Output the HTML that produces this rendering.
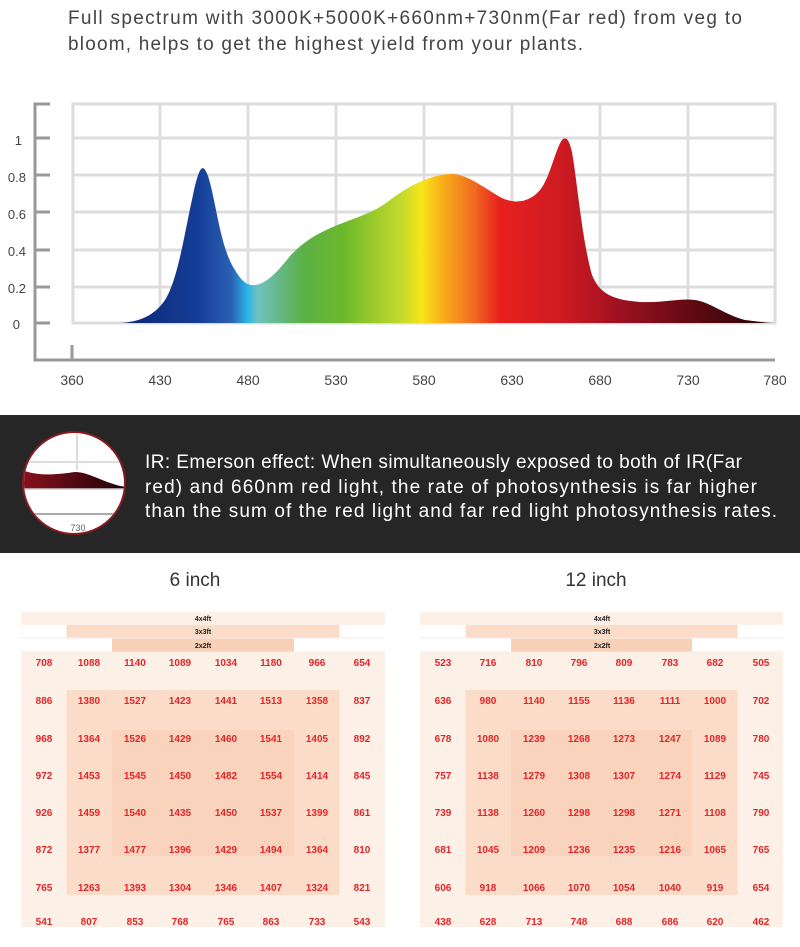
<!DOCTYPE html>
<html><head><meta charset="utf-8"><style>
body{margin:0;width:800px;height:947px;background:#fff;overflow:hidden}
svg{display:block;font-family:"Liberation Sans",sans-serif}
</style></head><body>
<svg width="800" height="947" viewBox="0 0 800 947">
<defs>
<linearGradient id="spec" x1="120" y1="0" x2="775" y2="0" gradientUnits="userSpaceOnUse">
<stop offset="0" stop-color="#0a2670"/>
<stop offset="0.12" stop-color="#153e98"/>
<stop offset="0.17" stop-color="#2a60b2"/>
<stop offset="0.195" stop-color="#2bb6e8"/>
<stop offset="0.21" stop-color="#70c0c0"/>
<stop offset="0.28" stop-color="#5cb045"/>
<stop offset="0.34" stop-color="#6cb82c"/>
<stop offset="0.43" stop-color="#c4da2c"/>
<stop offset="0.46" stop-color="#f5e619"/>
<stop offset="0.49" stop-color="#f8b218"/>
<stop offset="0.54" stop-color="#f06c20"/>
<stop offset="0.58" stop-color="#e8201e"/>
<stop offset="0.68" stop-color="#cc1a22"/>
<stop offset="0.77" stop-color="#9a1020"/>
<stop offset="0.87" stop-color="#620a12"/>
<stop offset="1" stop-color="#200404"/>
</linearGradient>
<linearGradient id="ir" x1="22" y1="0" x2="126" y2="0" gradientUnits="userSpaceOnUse">
<stop offset="0" stop-color="#8a1020"/><stop offset="1" stop-color="#1a0204"/>
</linearGradient>
<clipPath id="cc"><circle cx="74" cy="483" r="50"/></clipPath>
</defs>
<text x="68" y="24" font-size="19" fill="#444" textLength="674" lengthAdjust="spacing">Full spectrum with 3000K+5000K+660nm+730nm(Far red) from veg to</text>
<text x="68" y="50" font-size="19" fill="#444" textLength="515" lengthAdjust="spacing">bloom, helps to get the highest yield from your plants.</text>
<g stroke="#dddddd" stroke-width="3" fill="none">
<rect x="73" y="104" width="702" height="219"/>
<line x1="160" y1="104" x2="160" y2="323"/><line x1="248" y1="104" x2="248" y2="323"/>
<line x1="336" y1="104" x2="336" y2="323"/><line x1="424" y1="104" x2="424" y2="323"/>
<line x1="512" y1="104" x2="512" y2="323"/><line x1="600" y1="104" x2="600" y2="323"/>
<line x1="688" y1="104" x2="688" y2="323"/>
<line x1="73" y1="138" x2="775" y2="138"/><line x1="73" y1="175" x2="775" y2="175"/>
<line x1="73" y1="212" x2="775" y2="212"/><line x1="73" y1="250" x2="775" y2="250"/>
<line x1="73" y1="287" x2="775" y2="287"/>
</g>
<g stroke="#999" stroke-width="3" fill="none">
<polyline points="50,104 35,104 35,360 775,360"/>
<line x1="35" y1="138" x2="50" y2="138"/><line x1="35" y1="175" x2="50" y2="175"/>
<line x1="35" y1="212" x2="50" y2="212"/><line x1="35" y1="250" x2="50" y2="250"/>
<line x1="35" y1="287" x2="50" y2="287"/><line x1="35" y1="323" x2="50" y2="323"/>
<line x1="72" y1="345" x2="72" y2="360"/>
</g>
<g font-size="13" fill="#444" text-anchor="end">
<text x="22" y="145">1</text><text x="26" y="182">0.8</text><text x="26" y="219">0.6</text>
<text x="26" y="256">0.4</text><text x="26" y="293">0.2</text><text x="20" y="329">0</text>
</g>
<g font-size="14" fill="#444" text-anchor="middle">
<text x="72" y="385">360</text><text x="160" y="385">430</text><text x="248" y="385">480</text>
<text x="336" y="385">530</text><text x="424" y="385">580</text><text x="512" y="385">630</text>
<text x="600" y="385">680</text><text x="688" y="385">730</text><text x="775" y="385">780</text>
</g>
<path fill="url(#spec)" d="M120,323 C140,322 155,315 165,300 C178,280 185,230 193,195 C197,176 200,168 203,168 C207,170 210,180 215,205 C220,230 225,255 235,270 C242,282 248,286 255,285 C265,284 275,275 290,256 C305,240 320,232 340,224 C360,216 375,212 390,200 C410,185 430,175 450,174 C465,173 480,185 500,197 C515,205 530,202 540,190 C550,178 555,150 562,140 C566,136 569,139 572,152 C577,180 582,240 592,275 C600,295 615,300 640,302 C665,303 680,298 695,300 C710,302 725,315 745,320 C760,322 770,323 775,323 Z"/>
<rect x="0" y="415" width="800" height="138" fill="#262626"/>
<circle cx="74" cy="483" r="51" fill="#fff" stroke="#8a1a22" stroke-width="2"/>
<g clip-path="url(#cc)">
<g stroke="#ddd" stroke-width="2"><line x1="20" y1="462" x2="130" y2="462"/><line x1="77" y1="430" x2="77" y2="470"/></g>
<path d="M22,470 C40,477 60,474 75,472 C90,472 105,484 126,487 L126,489 L22,489 Z" fill="url(#ir)"/>
<line x1="20" y1="489" x2="130" y2="489" stroke="#ccc" stroke-width="1.5"/>
<line x1="20" y1="514" x2="130" y2="514" stroke="#aaa" stroke-width="2"/>
</g>
<text x="78" y="531" font-size="9" fill="#666" text-anchor="middle">730</text>
<g font-size="19" fill="#fff">
<text x="145" y="468" textLength="597" lengthAdjust="spacing">IR: Emerson effect: When simultaneously exposed to both of IR(Far</text>
<text x="145" y="493" textLength="612" lengthAdjust="spacing">red) and 660nm red light, the rate of photosynthesis is far higher</text>
<text x="145" y="517" textLength="632" lengthAdjust="spacing">than the sum of the red light and far red light photosynthesis rates.</text>
</g>
<g font-size="19" fill="#333" text-anchor="middle">
<text x="195" y="586">6 inch</text><text x="596" y="586">12 inch</text>
</g>
<g>
<rect x="21" y="612" width="364" height="315" fill="#fdf0e6"/>
<rect x="21" y="625" width="364" height="27" fill="#fff"/>
<rect x="66.5" y="625" width="273" height="13" fill="#fbdcc8"/>
<rect x="112" y="638" width="182" height="14" fill="#f9d0b8"/>
<rect x="21" y="652" width="364" height="275" fill="#fdf0e6"/>
<rect x="66.5" y="690" width="273" height="205" fill="#fbdcc8"/>
<rect x="112" y="730" width="182" height="126" fill="#f9d3bc"/>
<g stroke="#eee" stroke-width="1"><line x1="21" y1="638" x2="385" y2="638"/><line x1="21" y1="652" x2="385" y2="652"/></g>
</g>
<g>
<rect x="420" y="612" width="363" height="315" fill="#fdf0e6"/>
<rect x="420" y="625" width="363" height="27" fill="#fff"/>
<rect x="465.5" y="625" width="272" height="13" fill="#fbdcc8"/>
<rect x="511" y="638" width="181" height="14" fill="#f9d0b8"/>
<rect x="420" y="652" width="363" height="275" fill="#fdf0e6"/>
<rect x="465.5" y="690" width="272" height="205" fill="#fbdcc8"/>
<rect x="511" y="730" width="181" height="126" fill="#f9d3bc"/>
<g stroke="#eee" stroke-width="1"><line x1="420" y1="638" x2="783" y2="638"/><line x1="420" y1="652" x2="783" y2="652"/></g>
</g>
<g font-size="7" font-weight="bold" fill="#222" text-anchor="middle">
<text x="203" y="621">4x4ft</text><text x="203" y="634">3x3ft</text><text x="203" y="648">2x2ft</text>
<text x="602" y="621">4x4ft</text><text x="602" y="634">3x3ft</text><text x="602" y="648">2x2ft</text>
</g>
<g font-size="10" font-weight="bold" fill="#e0262a" text-anchor="middle">
<text y="666"><tspan x="44">708</tspan><tspan x="89">1088</tspan><tspan x="135">1140</tspan><tspan x="180">1089</tspan><tspan x="226">1034</tspan><tspan x="271">1180</tspan><tspan x="317">966</tspan><tspan x="362">654</tspan></text>
<text y="704"><tspan x="44">886</tspan><tspan x="89">1380</tspan><tspan x="135">1527</tspan><tspan x="180">1423</tspan><tspan x="226">1441</tspan><tspan x="271">1513</tspan><tspan x="317">1358</tspan><tspan x="362">837</tspan></text>
<text y="742"><tspan x="44">968</tspan><tspan x="89">1364</tspan><tspan x="135">1526</tspan><tspan x="180">1429</tspan><tspan x="226">1460</tspan><tspan x="271">1541</tspan><tspan x="317">1405</tspan><tspan x="362">892</tspan></text>
<text y="779"><tspan x="44">972</tspan><tspan x="89">1453</tspan><tspan x="135">1545</tspan><tspan x="180">1450</tspan><tspan x="226">1482</tspan><tspan x="271">1554</tspan><tspan x="317">1414</tspan><tspan x="362">845</tspan></text>
<text y="816"><tspan x="44">926</tspan><tspan x="89">1459</tspan><tspan x="135">1540</tspan><tspan x="180">1435</tspan><tspan x="226">1450</tspan><tspan x="271">1537</tspan><tspan x="317">1399</tspan><tspan x="362">861</tspan></text>
<text y="853"><tspan x="44">872</tspan><tspan x="89">1377</tspan><tspan x="135">1477</tspan><tspan x="180">1396</tspan><tspan x="226">1429</tspan><tspan x="271">1494</tspan><tspan x="317">1364</tspan><tspan x="362">810</tspan></text>
<text y="891"><tspan x="44">765</tspan><tspan x="89">1263</tspan><tspan x="135">1393</tspan><tspan x="180">1304</tspan><tspan x="226">1346</tspan><tspan x="271">1407</tspan><tspan x="317">1324</tspan><tspan x="362">821</tspan></text>
<text y="925"><tspan x="44">541</tspan><tspan x="89">807</tspan><tspan x="135">853</tspan><tspan x="180">768</tspan><tspan x="226">765</tspan><tspan x="271">863</tspan><tspan x="317">733</tspan><tspan x="362">543</tspan></text>

<text y="666"><tspan x="443">523</tspan><tspan x="488">716</tspan><tspan x="534">810</tspan><tspan x="579">796</tspan><tspan x="624">809</tspan><tspan x="670">783</tspan><tspan x="715">682</tspan><tspan x="761">505</tspan></text>
<text y="704"><tspan x="443">636</tspan><tspan x="488">980</tspan><tspan x="534">1140</tspan><tspan x="579">1155</tspan><tspan x="624">1136</tspan><tspan x="670">1111</tspan><tspan x="715">1000</tspan><tspan x="761">702</tspan></text>
<text y="742"><tspan x="443">678</tspan><tspan x="488">1080</tspan><tspan x="534">1239</tspan><tspan x="579">1268</tspan><tspan x="624">1273</tspan><tspan x="670">1247</tspan><tspan x="715">1089</tspan><tspan x="761">780</tspan></text>
<text y="779"><tspan x="443">757</tspan><tspan x="488">1138</tspan><tspan x="534">1279</tspan><tspan x="579">1308</tspan><tspan x="624">1307</tspan><tspan x="670">1274</tspan><tspan x="715">1129</tspan><tspan x="761">745</tspan></text>
<text y="816"><tspan x="443">739</tspan><tspan x="488">1138</tspan><tspan x="534">1260</tspan><tspan x="579">1298</tspan><tspan x="624">1298</tspan><tspan x="670">1271</tspan><tspan x="715">1108</tspan><tspan x="761">790</tspan></text>
<text y="853"><tspan x="443">681</tspan><tspan x="488">1045</tspan><tspan x="534">1209</tspan><tspan x="579">1236</tspan><tspan x="624">1235</tspan><tspan x="670">1216</tspan><tspan x="715">1065</tspan><tspan x="761">765</tspan></text>
<text y="891"><tspan x="443">606</tspan><tspan x="488">918</tspan><tspan x="534">1066</tspan><tspan x="579">1070</tspan><tspan x="624">1054</tspan><tspan x="670">1040</tspan><tspan x="715">919</tspan><tspan x="761">654</tspan></text>
<text y="925"><tspan x="443">438</tspan><tspan x="488">628</tspan><tspan x="534">713</tspan><tspan x="579">748</tspan><tspan x="624">688</tspan><tspan x="670">686</tspan><tspan x="715">620</tspan><tspan x="761">462</tspan></text>
</g>
</svg>
</body></html>
